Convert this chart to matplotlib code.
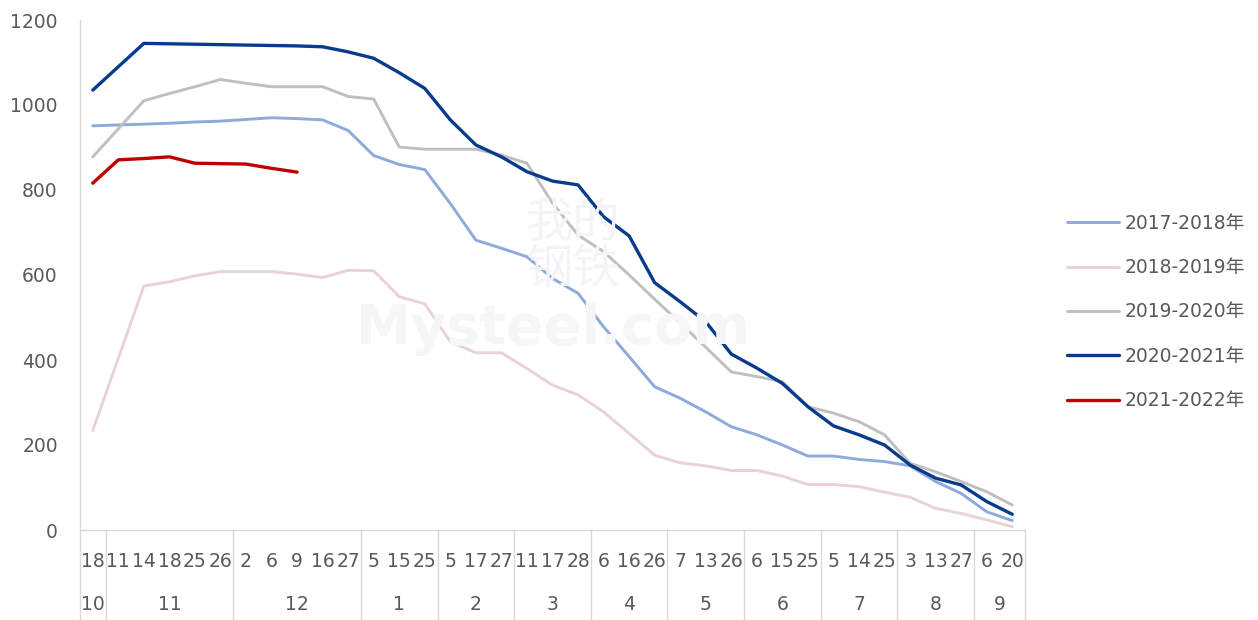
import numpy as np
import matplotlib
matplotlib.use("Agg")
import matplotlib.pyplot as plt
import matplotlib.transforms as mtransforms

plt.rcParams["font.family"] = ["DejaVu Sans", "Noto Sans CJK SC"]

# ─── Datos ────────────────────────────────────────────────────────────────────
dias = ["18", "11", "14", "18", "25", "26", "2", "6", "9", "16", "27",
        "5", "15", "25", "5", "17", "27", "11", "17", "28", "6", "16", "26",
        "7", "13", "26", "6", "15", "25", "5", "14", "25", "3", "13", "27",
        "6", "20"]
meses = ["10", "11", "12", "1", "2", "3", "4", "5", "6", "7", "8", "9"]
dias_por_mes = [1, 5, 5, 3, 3, 3, 3, 3, 3, 3, 3, 2]

s2017 = [951, 953, 955, 957, 960, 962, 966, 970, 968, 965, 940, 881, 860,
         848, 768, 682, 663, 643, 592, 557, 478, 408, 337, 310, 278, 243,
         224, 200, 174, 174, 166, 161, 151, 114, 86, 43, 22]
s2018 = [234, 404, 574, 584, 598, 608, 608, 608, 602, 594, 611, 610, 549,
         532, 443, 417, 417, 380, 341, 318, 278, 227, 176, 158, 151, 140,
         140, 127, 107, 107, 102, 89, 77, 51, 39, 24, 8]
s2019 = [878, 944, 1010, 1027, 1043, 1060, 1051, 1043, 1043, 1043, 1020,
         1014, 901, 896, 896, 896, 882, 863, 769, 694, 655, 600, 543, 487,
         430, 372, 361, 349, 290, 275, 255, 224, 157, 137, 114, 90, 59]
s2020 = [1035, 1090, 1145, 1144, 1143, 1142, 1141, 1140, 1139, 1137, 1125,
         1110, 1076, 1039, 965, 906, 878, 843, 821, 812, 737, 692, 582, 537,
         490, 414, 381, 345, 290, 245, 224, 200, 153, 122, 106, 67, 37]
s2021 = [816, 871, 874, 878, 863, 862, 861, 851, 842]

series = [
    ("2017-2018年", s2017, "#8EA9DB", 2.1),
    ("2018-2019年", s2018, "#EBD2D2", 2.1),
    ("2019-2020年", s2019, "#BFBFBF", 2.1),
    ("2020-2021年", s2020, "#073B8C", 2.4),
    ("2021-2022年", s2021, "#C00000", 2.4),
]

TXT = "#595959"
EJE = "#D9D9D9"

fig = plt.figure(figsize=(12.58, 6.2), dpi=100)
ax = fig.add_axes([80 / 1258, 90 / 620, 945 / 1258, 510 / 620])

# marca de agua (muy tenue)
fig.text(0.455, 0.60, "我的\n钢铁", fontsize=34, color="#F3F4F8", ha="center",
         va="center", linespacing=1.0, zorder=0)
fig.text(0.44, 0.47, "Mysteel.com", fontsize=40, color="#F6F6F6",
         ha="center", va="center", fontweight="bold", zorder=0)

x = np.arange(len(dias))
for nombre, valores, color, lw in series:
    ax.plot(x[:len(valores)], valores, color=color, lw=lw, label=nombre,
            solid_joinstyle="round", solid_capstyle="round", zorder=3)

ax.set_xlim(-0.5, len(dias) - 0.5)
ax.set_ylim(0, 1200)
ax.set_yticks(range(0, 1201, 200))
ax.tick_params(axis="y", length=0, labelsize=13.5, labelcolor=TXT, pad=16)
ax.set_xticks(x)
ax.set_xticklabels(dias)
ax.tick_params(axis="x", length=0, labelsize=13.5, labelcolor=TXT, pad=16)

for lado in ["top", "right"]:
    ax.spines[lado].set_visible(False)
for lado in ["left", "bottom"]:
    ax.spines[lado].set_color(EJE)
    ax.spines[lado].set_linewidth(1.0)
ax.set_facecolor("none")

# etiquetas de mes y separadores
trans = mtransforms.blended_transform_factory(ax.transData, ax.transAxes)
inicio = 0
limites = [-0.5]
for mes, n in zip(meses, dias_por_mes):
    centro = inicio + (n - 1) / 2
    ax.text(centro, -0.147, mes, transform=trans, ha="center", va="center",
            fontsize=13.5, color=TXT)
    inicio += n
    limites.append(inicio - 0.5)
for b in limites:
    ax.plot([b, b], [0, -0.176], transform=trans, color=EJE, lw=1.0,
            clip_on=False)

leg = fig.legend(loc="center left", bbox_to_anchor=(1050 / 1258, 1 - 312 / 620),
                 frameon=False, fontsize=13.5, handlelength=2.8,
                 handletextpad=0.3, labelspacing=1.35)
for t in leg.get_texts():
    t.set_color(TXT)

fig.savefig("out.png", dpi=100)
